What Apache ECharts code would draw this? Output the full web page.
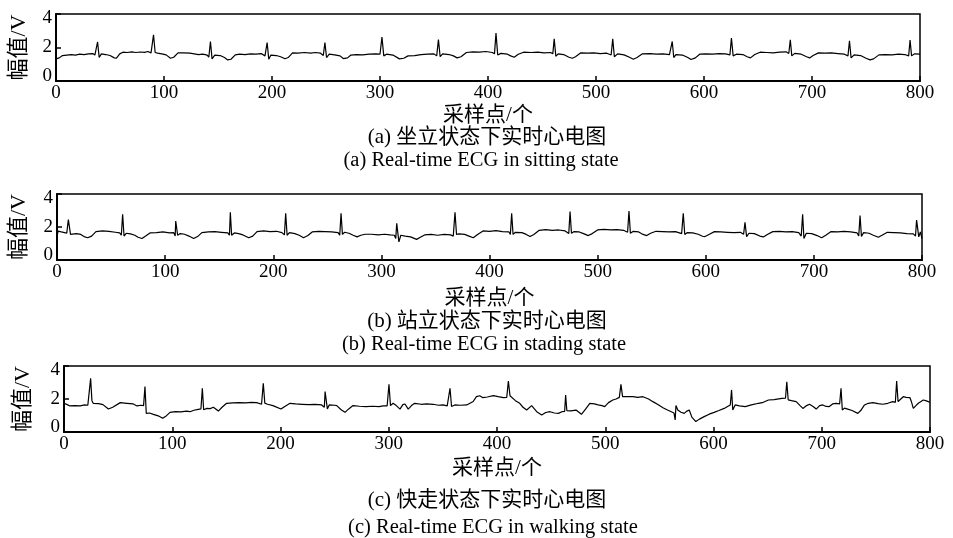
<!DOCTYPE html>
<html>
<head>
<meta charset="utf-8">
<script src="https://cdn.jsdelivr.net/npm/echarts@6/dist/echarts.min.js"></script>
<style>
  html, body { margin: 0; padding: 0; background: #fff; }
  #chart { width: 953px; height: 538px; }
</style>
</head>
<body>
<div id="chart"></div>
<script>
// x range / ticks shared by all three panels
const xTicks = [0, 100, 200, 300, 400, 500, 600, 700, 800]
const yTicks = [0, 2, 4]

// (a) sitting — [sample, volts]
const sittingData = [
  [0,1.32],[3,1.38],[6,1.52],[10,1.55],[14,1.57],[18,1.55],[22,1.6],[26,1.58],[30,1.62],[34,1.64],[36,1.55],[37,1.5],[38.5,2.33],[40,1.4],[42,1.62],[46,1.58],[50,1.52],[54,1.38],[56,1.36],[59,1.62],
  [62,1.72],[66,1.7],[70,1.74],[74,1.7],[78,1.73],[82,1.71],[85,1.76],[88,1.68],[89,1.62],[90.3,2.76],[91.8,1.7],[94,1.66],[98,1.62],[102,1.56],[106,1.36],[109,1.42],[113,1.68],[118,1.68],[124,1.66],[128,1.62],
  [132,1.58],[136,1.6],[140,1.55],[141.5,1.42],[143,2.36],[144.5,1.32],[147,1.55],[152,1.52],[156,1.4],[159,1.26],[162,1.3],[166,1.56],[170,1.6],[175,1.58],[180,1.62],[185,1.6],[190,1.64],[193.5,1.5],[195.5,2.3],[197,1.3],
  [199,1.55],[204,1.52],[208,1.45],[212,1.33],[215,1.4],[219,1.68],[224,1.66],[230,1.7],[236,1.66],[240,1.7],[245,1.66],[247.5,1.52],[249,2.3],[250.5,1.4],[253,1.6],[258,1.56],[263,1.5],[266,1.34],[270,1.38],[273,1.55],
  [278,1.58],[284,1.56],[290,1.6],[296,1.62],[300,1.6],[301.8,2.62],[303.5,1.5],[306,1.6],[312,1.55],[318,1.32],[322,1.36],[326,1.5],[332,1.52],[338,1.58],[344,1.6],[350,1.62],[352.5,1.5],[354.1,2.47],[355.7,1.45],[358,1.62],
  [364,1.58],[368,1.5],[371.4,1.38],[375,1.45],[380,1.7],[386,1.74],[392,1.72],[398,1.76],[404,1.7],[406,1.62],[407.4,2.86],[409,1.55],[412,1.65],[418,1.6],[421,1.5],[424.3,1.42],[428,1.6],[433,1.72],[440,1.7],[446,1.72],
  [452,1.68],[458,1.7],[460,1.62],[461.3,2.52],[462.8,1.48],[465,1.62],[470,1.58],[475,1.42],[478,1.36],[481,1.45],[486,1.68],[492,1.66],[498,1.68],[504,1.64],[510,1.66],[514,1.55],[515.5,2.52],[517,1.45],[520,1.62],[526,1.56],
  [531,1.42],[534.6,1.3],[538,1.4],[543,1.62],[550,1.64],[556,1.6],[562,1.62],[568,1.58],[569.3,1.5],[570.6,2.36],[572,1.4],[574,1.58],[580,1.55],[585,1.4],[588,1.28],[592,1.38],[596,1.6],[602,1.62],[608,1.6],[614,1.64],
  [620,1.62],[624,1.56],[625.4,2.56],[627,1.5],[630,1.6],[636,1.58],[640,1.45],[643,1.38],[647,1.58],[652,1.72],[658,1.7],[664,1.68],[670,1.72],[676,1.74],[678.5,1.64],[679.9,2.46],[681.3,1.5],[684,1.65],[690,1.6],[695,1.45],
  [697.8,1.38],[701,1.52],[706,1.68],[712,1.66],[718,1.68],[724,1.64],[730,1.6],[733.3,1.5],[734.7,2.4],[736.2,1.38],[739,1.56],[745,1.52],[750,1.36],[753.8,1.26],[757,1.32],[762,1.56],[768,1.58],[774,1.56],[780,1.6],[786,1.58],
  [789.5,1.5],[790.8,2.45],[792.2,1.5],[795,1.62],[800,1.6]
]

// (b) standing
const standingData = [
  [0,1.4],[1,1.75],[4,1.7],[7,1.66],[9,1.62],[10,1.5],[10.5,2.45],[12,2.45],[12.5,1.55],[14,1.62],[18,1.6],[22,1.55],[25,1.42],[28.4,1.35],[32,1.45],[36,1.72],[42,1.76],[48,1.74],[54,1.68],[58,1.64],
  [59.5,1.5],[60.7,2.77],[62,1.45],[64,1.62],[68,1.58],[72,1.5],[75,1.38],[78.6,1.3],[82,1.45],[86,1.64],[92,1.66],[98,1.7],[104,1.64],[108,1.66],[109.3,1.45],[109.8,2.36],[111,2.3],[111.6,1.5],[114,1.6],[118,1.56],
  [122,1.45],[126.4,1.3],[130,1.42],[134,1.66],[140,1.7],[146,1.72],[152,1.68],[158,1.64],[159.5,1.5],[160.3,2.89],[161.5,1.5],[164,1.64],[168,1.6],[172,1.52],[177.3,1.35],[181,1.45],[185,1.72],[191,1.76],[197,1.72],[203,1.74],
  [208,1.66],[210.3,1.52],[211.5,2.83],[212.8,1.5],[215,1.66],[220,1.6],[224,1.5],[228,1.35],[232,1.48],[236,1.7],[242,1.74],[248,1.72],[254,1.7],[260,1.66],[261.5,1.5],[262.7,2.83],[264,1.55],[266,1.68],[270,1.62],[274,1.5],
  [277.5,1.4],[281,1.5],[285,1.56],[291,1.56],[297,1.52],[303,1.56],[308,1.52],[312,1.5],[313.3,1.3],[314.2,2.22],[315.3,1.6],[316.2,1.1],[318,1.5],[322,1.45],[327,1.4],[332.6,1.25],[336,1.38],[340,1.52],[346,1.55],[352,1.5],
  [358,1.55],[364,1.52],[366.5,1.45],[368.1,2.89],[369.5,1.55],[372,1.58],[377,1.55],[381,1.45],[385,1.35],[389,1.55],[394,1.76],[400,1.74],[406,1.78],[412,1.72],[418,1.7],[419.3,1.55],[420.5,2.83],[421.8,1.55],[424,1.68],[430,1.66],
  [434,1.55],[437.5,1.42],[441,1.55],[446,1.8],[452,1.84],[458,1.8],[464,1.82],[470,1.76],[473.3,1.6],[474.5,2.93],[475.8,1.62],[478,1.72],[483,1.7],[487,1.6],[491.4,1.48],[495,1.6],[500,1.82],[506,1.86],[512,1.82],[518,1.84],
  [524,1.8],[527.7,1.68],[529,2.97],[530.3,1.62],[533,1.74],[538,1.7],[542,1.55],[545.4,1.48],[549,1.62],[554,1.74],[560,1.72],[566,1.7],[572,1.72],[577.7,1.6],[579.2,2.83],[580.6,1.55],[583,1.66],[588,1.64],[593,1.56],[597,1.44],
  [599.3,1.42],[603,1.55],[608,1.72],[614,1.7],[620,1.68],[626,1.66],[632,1.68],[635,1.56],[636.3,2.28],[637.8,1.42],[640,1.62],[645,1.6],[650,1.45],[653.3,1.4],[657,1.55],[662,1.72],[668,1.74],[674,1.7],[680,1.72],[686,1.66],
  [688.3,1.45],[689.6,2.77],[690.8,1.3],[693,1.62],[698,1.6],[703,1.48],[707.2,1.35],[711,1.5],[716,1.72],[722,1.7],[728,1.74],[734,1.7],[740,1.64],[741.5,1.45],[742.7,2.69],[744,1.42],[746,1.66],[751,1.62],[755,1.5],[759.6,1.38],
  [763,1.5],[768,1.68],[774,1.66],[780,1.64],[786,1.6],[792,1.58],[794,1.45],[795,2.42],[796.2,2.3],[797,1.4],[798.5,1.7],[800,1.3]
]

// (c) walking
const walkingData = [
  [0,1.74],[3,1.66],[5.5,1.58],[10,1.6],[15,1.58],[19,1.64],[22,1.62],[23.5,1.7],[24.6,3.25],[25.8,1.9],[27,1.74],[32,1.72],[36,1.66],[41,1.39],[45,1.5],[52,1.78],[58,1.74],[64,1.7],[67.5,1.58],[71,1.62],
  [73.5,1.6],[74.8,2.75],[76,1.13],[79,1.15],[82.6,1.07],[87,0.98],[91.2,0.83],[94,0.95],[97.9,1.19],[103,1.24],[108,1.22],[113,1.26],[116.4,1.23],[120,1.32],[124,1.37],[126.5,1.4],[127.8,2.65],[129,1.35],[132,1.43],[135,1.42],
  [138,1.5],[142.6,1.27],[146,1.5],[150.2,1.74],[156,1.76],[162,1.78],[168,1.76],[173,1.8],[178,1.78],[182.5,1.68],[184.1,2.95],[185.5,1.75],[188,1.68],[193,1.6],[200.4,1.39],[204,1.55],[208.8,1.74],[214,1.7],[220,1.68],[226,1.66],
  [232,1.68],[238,1.64],[240.5,1.5],[241.2,2.45],[242.5,2.35],[243.3,1.4],[245,1.64],[250,1.62],[252,1.6],[256,1.35],[259.6,1.19],[263,1.4],[267,1.6],[273,1.56],[279,1.54],[285,1.56],[291,1.54],[295,1.58],[298.5,1.58],[300.2,2.89],
  [301.6,1.6],[304,1.74],[307,1.6],[310.4,1.39],[313,1.66],[315,1.7],[318,1.39],[321,1.6],[324,1.74],[330,1.68],[335,1.7],[341,1.68],[346,1.62],[350,1.64],[354,1.58],[355.3,1.55],[356.6,2.65],[358,1.55],[361,1.64],[366,1.62],
  [372,1.64],[378,1.85],[381,2.14],[384,2.2],[387,2.08],[391,2.12],[396.6,2.2],[401,2.14],[406,2.08],[409,2.1],[410.5,3.09],[412,2.2],[413.6,2.08],[417,1.9],[421,1.74],[424,1.5],[427.4,1.33],[432,1.6],[436.7,1.23],[441.3,1.03],
  [445,1.18],[449,1.23],[453,1.15],[456.7,1.13],[460,1.23],[462.5,1.25],[463.4,2.24],[464.5,1.3],[468,1.28],[473,1.33],[478,1.07],[482,1.4],[485.7,1.74],[490,1.7],[493.4,1.64],[497,1.6],[499.5,1.54],[503,1.78],[507,1.94],[510,2.0],
  [513,2.1],[514.5,2.89],[516,2.14],[520,2.14],[525.6,2.14],[530,2.1],[534.8,2.14],[540,2.0],[544,1.84],[549,1.65],[553.3,1.47],[557,1.35],[561,1.23],[563.5,1.15],[564.6,0.73],[565.3,1.6],[567,1.33],[570,1.2],[573,1.13],[575,1.25],
  [577.6,1.33],[580,0.9],[583.7,0.63],[587,0.78],[591.4,0.93],[596,1.08],[600.6,1.19],[605,1.3],[609.9,1.43],[613,1.55],[615.5,1.64],[616.7,2.55],[617.8,1.33],[620,1.64],[624,1.58],[629.3,1.54],[635,1.64],[641.6,1.74],[646,1.8],[650.8,1.94],
  [656,1.96],[663.1,2.04],[666.5,2.05],[667.7,3.05],[669,1.95],[672,1.9],[676.4,1.84],[680,1.6],[682.6,1.43],[686,1.6],[688.7,1.68],[692,1.55],[694.9,1.39],[698,1.6],[701,1.64],[704,1.55],[707,1.54],[710,1.7],[713.2,1.74],[716.5,1.7],
  [717.8,2.65],[719,1.33],[721,1.45],[724,1.39],[728,1.3],[733.3,1.13],[736,1.3],[739.5,1.64],[743,1.74],[747.2,1.78],[752,1.72],[756.4,1.68],[761,1.74],[765.6,1.84],[768,1.8],[769.2,3.09],[770.5,1.84],[773,2.0],[775.3,2.14],[778,2.1],
  [781.5,2.08],[783,1.8],[784.6,1.43],[787,1.6],[789.2,1.74],[791,1.7],[793.8,1.94],[796,1.9],[798.4,1.84],[800,1.8]
]

const xName = '采样点/个'
const yName = '幅值/V'
const captionsCn = ['(a) 坐立状态下实时心电图', '(b) 站立状态下实时心电图', '(c) 快走状态下实时心电图']
const captionsEn = ['(a) Real-time ECG in sitting state', '(b) Real-time ECG in stading state', '(c) Real-time ECG in walking state']

const FONT = "'Liberation Serif', 'Times New Roman', 'Noto Sans CJK SC', serif"

// plot boxes
const grids = [
  { left: 54, top: 14, width: 866, height: 67 },
  { left: 57, top: 194, width: 865, height: 66 },
  { left: 64, top: 366, width: 866, height: 66 },
]
const xNameGap = [24, 28, 26]
const yNameGap = [26, 27, 30]
const captionY = [[137, 161], [321, 345], [500, 528]]
const captionX = [[487, 481], [487, 484], [487, 493]]

const chart = echarts.init(document.getElementById('chart'))

// end labels sit a little inside the box, like the original
function yLabel(v) {
  if (v === yTicks[yTicks.length - 1]) return '{hi|' + v + '}'
  if (v === yTicks[0]) return '{lo|' + v + '}'
  return String(v)
}

chart.setOption({
  animation: false,
  backgroundColor: '#fff',
  textStyle: { fontFamily: FONT, color: '#000' },
  grid: grids.map(g => ({ ...g, show: true, borderColor: '#000', borderWidth: 1.5, containLabel: false })),
  xAxis: grids.map((g, i) => ({
    type: 'value',
    gridIndex: i,
    min: xTicks[0],
    max: xTicks[xTicks.length - 1],
    interval: 100,
    name: xName,
    nameLocation: 'middle',
    nameGap: xNameGap[i],
    nameTextStyle: { fontFamily: FONT, fontSize: 21, color: '#000' },
    axisLine: { onZero: false, lineStyle: { color: '#000', width: 2 } },
    axisTick: { inside: true, length: 5, lineStyle: { color: '#000', width: 1.5 } },
    axisLabel: { fontFamily: FONT, fontSize: 19, color: '#000', margin: 3 },
    splitLine: { show: false },
  })),
  yAxis: grids.map((g, i) => ({
    type: 'value',
    gridIndex: i,
    min: yTicks[0],
    max: yTicks[yTicks.length - 1],
    interval: 2,
    name: yName,
    nameLocation: 'middle',
    nameGap: yNameGap[i],
    nameTextStyle: { fontFamily: FONT, fontSize: 22, color: '#000' },
    axisLine: { onZero: false, lineStyle: { color: '#000', width: 2 } },
    axisTick: { inside: true, length: 5, lineStyle: { color: '#000', width: 1.5 } },
    axisLabel: {
      fontFamily: FONT, fontSize: 19, color: '#000', margin: 4,
      formatter: yLabel,
      rich: {
        hi: { fontFamily: FONT, fontSize: 19, color: '#000', padding: [9, 0, 0, 0] },
        lo: { fontFamily: FONT, fontSize: 19, color: '#000', padding: [0, 0, 9, 0] },
      },
    },
    splitLine: { show: false },
  })),
  series: [sittingData, standingData, walkingData].map((d, i) => ({
    type: 'line',
    xAxisIndex: i,
    yAxisIndex: i,
    data: d,
    symbol: 'none',
    lineStyle: { color: '#000', width: 1.2 },
    clip: true,
  })),
  graphic: [0, 1, 2].flatMap(i => [
    {
      type: 'text',
      x: captionX[i][0],
      y: captionY[i][0],
      style: { text: captionsCn[i], font: `21px ${FONT}`, fill: '#000', align: 'center', verticalAlign: 'middle' },
    },
    {
      type: 'text',
      x: captionX[i][1],
      y: captionY[i][1],
      style: { text: captionsEn[i], font: `20.5px ${FONT}`, fill: '#000', align: 'center', verticalAlign: 'middle' },
    },
  ]),
})
</script>
</body>
</html>
